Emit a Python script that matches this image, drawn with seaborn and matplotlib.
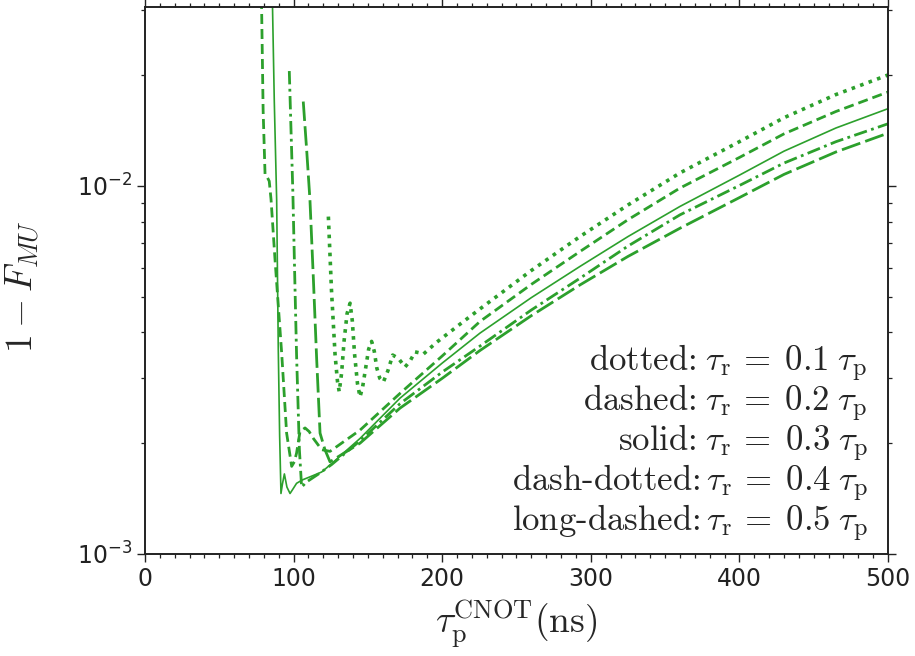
import numpy as np
import pandas as pd
import matplotlib
matplotlib.use("Agg")
import matplotlib.pyplot as plt
import seaborn as sns

# ---------------- data ----------------
tau_dotted = [123.4, 125.5, 127.9, 129.5, 130.7, 132.3, 134.0, 136.0, 138.0, 139.5, 141.0, 143.0, 144.7,
              146.5, 148.5, 150.5, 152.5, 154.3, 156.0, 158.0, 160.4, 163.5, 166.7, 170.5, 175.0, 178.5,
              181.7, 184.5, 187.3, 196.3, 212.0, 225.4, 260.0, 292.7, 325.0, 360.0, 400.0, 430.0, 465.0, 500.0]
fid_dotted = [8.25e-3, 5.2e-3, 3.48e-3, 2.95e-3, 2.76e-3, 3.1e-3, 3.8e-3, 4.5e-3, 4.8e-3, 4.3e-3, 3.5e-3, 2.9e-3, 2.67e-3,
              2.85e-3, 3.2e-3, 3.6e-3, 3.78e-3, 3.55e-3, 3.2e-3, 3.0e-3, 2.93e-3, 3.15e-3, 3.47e-3, 3.4e-3, 3.22e-3, 3.35e-3,
              3.54e-3, 3.52e-3, 3.49e-3, 3.76e-3, 4.21e-3, 4.63e-3, 5.89e-3, 7.28e-3, 8.87e-3, 1.084e-2, 1.318e-2, 1.531e-2,
              1.77e-2, 2.0e-2]

tau_dashed = [78.3, 79.5, 80.8, 82.0, 83.6, 84.8, 87.5, 92.0, 95.3, 98.7, 100.5, 102.0, 104.3, 107.7, 110.5,
              113.3, 118.9, 124.5, 144.7, 171.6, 200.0, 225.4, 260.0, 292.7, 325.0, 360.0, 400.0, 430.0, 465.0, 500.0]
fid_dashed = [3.4e-2, 1.6e-2, 1.07e-2, 1.06e-2, 1.03e-2, 9.2e-3, 6.3e-3, 3.5e-3, 2.13e-3, 1.73e-3, 1.78e-3, 1.88e-3, 2.15e-3,
              2.2e-3, 2.15e-3, 2.06e-3, 1.92e-3, 1.9e-3, 2.17e-3, 2.73e-3, 3.45e-3, 4.28e-3, 5.40e-3, 6.63e-3, 8.09e-3,
              9.86e-3, 1.194e-2, 1.384e-2, 1.592e-2, 1.798e-2]

tau_solid = [85.6, 87.0, 88.6, 89.7, 90.6, 91.5, 92.5, 93.8, 95.5, 97.6, 99.5, 102.0, 106.0, 111.0, 118.9,
             125.6, 144.7, 171.6, 200.0, 225.4, 260.0, 292.7, 325.0, 360.0, 400.0, 430.0, 465.0, 500.0]
fid_solid = [3.4e-2, 1.7e-2, 9.16e-3, 3.58e-3, 2.1e-3, 1.46e-3, 1.55e-3, 1.65e-3, 1.52e-3, 1.46e-3, 1.5e-3, 1.556e-3,
             1.59e-3, 1.62e-3, 1.67e-3, 1.76e-3, 2.06e-3, 2.65e-3, 3.3e-3, 3.98e-3, 4.97e-3, 6.04e-3, 7.28e-3, 8.79e-3,
             1.069e-2, 1.242e-2, 1.436e-2, 1.62e-2]

tau_dashdot = [97.1, 98.3, 99.5, 100.8, 102.0, 103.9, 105.4, 108.8, 117.8, 125.6, 144.7, 171.6, 200.0,
               225.4, 260.0, 292.7, 325.0, 360.0, 400.0, 430.0, 465.0, 500.0]
fid_dashdot = [2.05e-2, 1.4e-2, 9.6e-3, 5.6e-3, 3.47e-3, 1.92e-3, 1.52e-3, 1.57e-3, 1.66e-3, 1.75e-3, 2.03e-3, 2.56e-3,
               3.12e-3, 3.67e-3, 4.60e-3, 5.61e-3, 6.86e-3, 8.34e-3, 1.002e-2, 1.153e-2, 1.318e-2, 1.474e-2]

tau_longdash = [106.5, 108.8, 111.0, 113.3, 115.5, 117.8, 121.1, 124.5, 144.7, 171.6, 200.0, 225.4,
                260.0, 292.7, 325.0, 360.0, 400.0, 430.0, 465.0, 500.0]
fid_longdash = [1.694e-2, 1.25e-2, 9.16e-3, 5.6e-3, 3.4e-3, 2.13e-3, 1.92e-3, 1.78e-3, 2.0e-3, 2.49e-3, 3.0e-3, 3.57e-3,
                4.44e-3, 5.38e-3, 6.43e-3, 7.67e-3, 9.29e-3, 1.074e-2, 1.236e-2, 1.39e-2]

legend_lines = [r"dotted:$\;\tau_{\rm r}\,=\;0.1\;\tau_{\rm p}$",
                r"dashed:$\;\tau_{\rm r}\,=\;0.2\;\tau_{\rm p}$",
                r"solid:$\;\tau_{\rm r}\,=\;0.3\;\tau_{\rm p}$",
                r"dash-dotted:$\,\tau_{\rm r}\,=\;0.4\;\tau_{\rm p}$",
                r"long-dashed:$\,\tau_{\rm r}\,=\;0.5\;\tau_{\rm p}$"]

# ---------------- style ----------------
sns.set_theme(style="ticks")
plt.rcParams["font.family"] = ["DejaVu Sans"]
plt.rcParams["mathtext.fontset"] = "dejavusans"
plt.rcParams["axes.unicode_minus"] = True

green = "#2ca02c"

fig = plt.figure(figsize=(9.15, 6.56), dpi=100)
ax = fig.add_axes([0.15847, 0.15549, 0.81202, 0.83384])

series = [
    (tau_dotted, fid_dotted, dict(linestyle=(0, (1.0, 1.5)), linewidth=2.6)),
    (tau_dashed, fid_dashed, dict(linestyle=(0, (3.6, 1.8)), linewidth=2.0)),
    (tau_solid, fid_solid, dict(linestyle="-", linewidth=1.2)),
    (tau_dashdot, fid_dashdot, dict(linestyle=(0, (4.8, 1.6, 1.0, 1.6)), linewidth=2.0)),
    (tau_longdash, fid_longdash, dict(linestyle=(0, (7.0, 1.9)), linewidth=2.0)),
]
for xs, ys, kw in series:
    df = pd.DataFrame({"tau": xs, "inf": ys})
    sns.lineplot(data=df, x="tau", y="inf", ax=ax, color=green, sort=False,
                 estimator=None, **kw)

ax.set_yscale("log")
ax.set_xlim(0, 500)
ax.set_ylim(1e-3, 3.06e-2)
ax.set_xticks([0, 100, 200, 300, 400, 500])
ax.xaxis.set_minor_locator(matplotlib.ticker.MultipleLocator(10))
ax.tick_params(which="both", direction="out", top=True, right=True, colors="#222222")
ax.tick_params(which="major", length=5.5, width=1.0, labelsize=17, pad=4)
ax.tick_params(which="minor", length=2.8, width=0.9)
for sp in ax.spines.values():
    sp.set_visible(True)
    sp.set_linewidth(1.4)
    sp.set_color("#222222")

ax.set_xlabel(r"$\tau_{\rm p}^{\rm CNOT}({\rm ns})$", fontsize=27, math_fontfamily="cm")
ax.set_ylabel(r"$1 - F_{MU}$", fontsize=27, math_fontfamily="cm")
ax.xaxis.set_label_coords(0.5, -0.080)
ax.yaxis.set_label_coords(-0.139, 0.488)

baselines = [0.3346, 0.2614, 0.1883, 0.1152, 0.0420]
for txt, yb in zip(legend_lines, baselines):
    ax.text(0.973, yb, txt, transform=ax.transAxes, ha="right", va="baseline",
            fontsize=25, family="cmr10", math_fontfamily="cm")

fig.savefig("out.png", dpi=100)
